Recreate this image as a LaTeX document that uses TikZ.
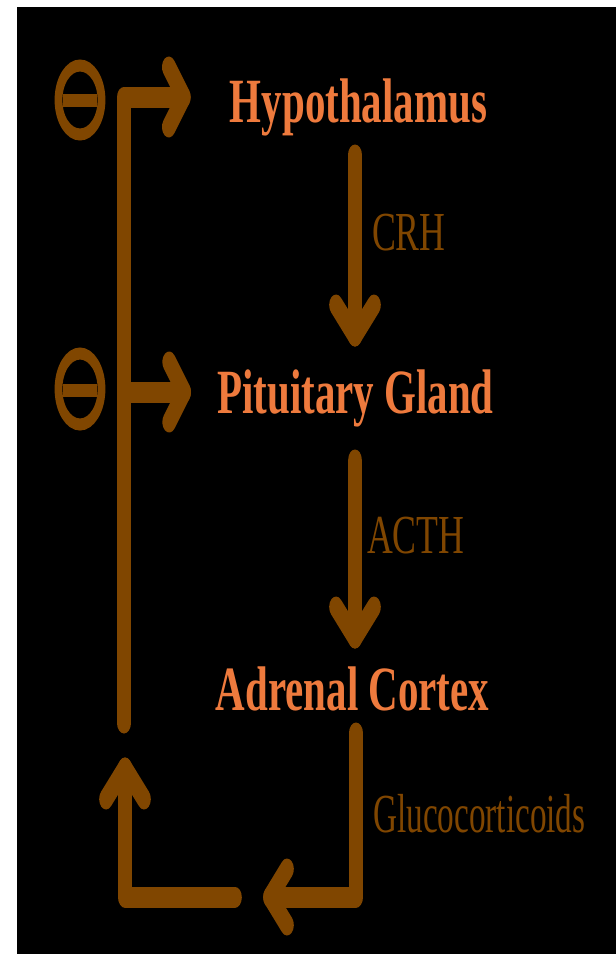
\documentclass[tikz,border=0pt]{standalone}
\usepackage{fontspec}
\setmainfont{Liberation Serif}
\usetikzlibrary{calc}
\definecolor{arrbrown}{RGB}{128,70,0}
\definecolor{txtorange}{RGB}{238,122,61}
\begin{document}
\begin{tikzpicture}[x=1pt,y=-1pt]
\useasboundingbox (0,0) rectangle (616,954);
\fill[white] (0,0) rectangle (616,954);
\fill[black] (17,7) rectangle (616,954);
\begin{scope}[transform canvas={xscale=0.65}, x=1.538462pt, y=-1pt,
  flow/.style={draw=arrbrown, line width=21pt, line cap=round, line join=round},
  title/.style={inner sep=0pt, anchor=base, text=txtorange, font=\bfseries\fontsize{63}{70}\selectfont},
  hormone/.style={inner sep=0pt, anchor=base west, text=arrbrown, font=\fontsize{55}{62}\selectfont},
  inhib/.style={draw=arrbrown, line width=12pt},
  bar/.style={draw=arrbrown, line width=13pt}]
% glands
\node[title] (hyp) at (358.5,122) {Hypothalamus};
\node[title] (pit) at (355.5,413) {Pituitary Gland};
\node[title] (adr) at (352.5,710) {Adrenal Cortex};
% hormones
\node[hormone] (crh) at (372,250) {CRH};
\node[hormone] (acth) at (367,553) {ACTH};
\node[hormone] (gluc) at (373,832) {\scalebox{0.93}[1]{Glucocorticoids}};
% CRH arrow
\draw[flow] ($(hyp.base)+(-3.5,33)$) -- ($(pit.base)+(-0.5,-77)$) coordinate (t1);
\draw[flow] ($(t1)+(-19,-31)$) -- (t1) -- ($(t1)+(19,-31)$);
% ACTH arrow
\draw[flow] ($(pit.base)+(-0.5,47)$) -- ($(adr.base)+(2.5,-72)$) coordinate (t2);
\draw[flow] ($(t2)+(-19,-31)$) -- (t2) -- ($(t2)+(19,-31)$);
% glucocorticoids loop
\draw[flow] ($(adr.base)+(3.5,23)$) coordinate (g0) -- (g0 |- 0,897) -- (270,897) coordinate (t3);
\draw[flow] ($(t3)+(17,-28)$) -- (t3) -- ($(t3)+(17,28)$);
\draw[flow] (235,897) -- (125,897) -- (125,768) coordinate (t4);
\draw[flow] ($(t4)+(-19,31)$) -- (t4) -- ($(t4)+(19,31)$);
% feedback line
\draw[flow] (124,723) -- (124,97) -- ($(hyp.base west)+(-46,-25)$) coordinate (t5);
\draw[flow] ($(t5)+(-15,-30)$) -- (t5) -- ($(t5)+(-15,30)$);
\draw[flow] (124,392) -- ($(pit.base west)+(-33,-21)$) coordinate (t6);
\draw[flow] ($(t6)+(-15,-30)$) -- (t6) -- ($(t6)+(-15,30)$);
% inhibition signs
\draw[inhib] (80,100) ellipse [x radius=21.5, y radius=34.5];
\draw[bar] (63,100) -- (97,100);
\draw[inhib] (80,389) ellipse [x radius=21.5, y radius=35.5];
\draw[bar] (63,390) -- (97,390);
\end{scope}
\end{tikzpicture}
\end{document}
